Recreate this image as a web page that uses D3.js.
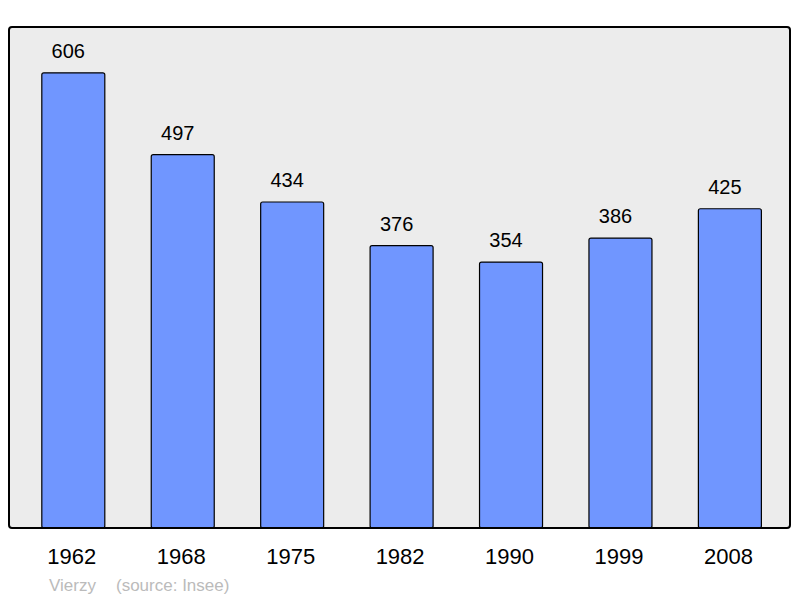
<!DOCTYPE html>
<html>
<head>
<meta charset="utf-8">
<script src="https://cdn.jsdelivr.net/npm/d3@7"></script>
<style>
  html, body { margin: 0; padding: 0; background: #fff; }
  svg { display: block; font-family: "Liberation Sans", Arial, sans-serif; }
</style>
</head>
<body>
<svg id="chart" width="800" height="598"></svg>
<script>
const years = ["1962", "1968", "1975", "1982", "1990", "1999", "2008"];
const population = [606, 497, 434, 376, 354, 386, 425];
const commune = "Vierzy";
const sourceLabel = "(source: Insee)";

const svg = d3.select("#chart");
const plot = { left: 9, top: 27, right: 790, bottom: 528 };

const x = d3.scaleBand()
  .domain(years)
  .range([18.6, 784.6])
  .paddingInner(0.4243)
  .paddingOuter(0.2121);

const y = d3.scaleLinear()
  .domain([0, 667])
  .range([plot.bottom, plot.top]);

// background
svg.append("rect")
  .attr("x", plot.left).attr("y", plot.top)
  .attr("width", plot.right - plot.left)
  .attr("height", plot.bottom - plot.top)
  .attr("rx", 3)
  .attr("fill", "#ececec");

const data = years.map((yr, i) => ({ year: yr, value: population[i] }));

svg.selectAll("rect.bar")
  .data(data)
  .enter().append("rect")
  .attr("class", "bar")
  .attr("x", d => x(d.year))
  .attr("y", d => y(d.value))
  .attr("width", x.bandwidth())
  .attr("height", d => y(0) - y(d.value))
  .attr("rx", 2)
  .attr("fill", "#7096ff")
  .attr("stroke", "#000")
  .attr("stroke-width", 1.2);

svg.selectAll("text.val")
  .data(data)
  .enter().append("text")
  .attr("class", "val")
  .attr("x", d => x(d.year) + x.bandwidth() / 2 - 5)
  .attr("y", d => y(d.value) - 15)
  .attr("text-anchor", "middle")
  .attr("font-size", 20)
  .attr("fill", "#000")
  .text(d => d.value);

// frame
svg.append("rect")
  .attr("x", plot.left).attr("y", plot.top)
  .attr("width", plot.right - plot.left)
  .attr("height", plot.bottom - plot.top)
  .attr("rx", 3)
  .attr("fill", "none")
  .attr("stroke", "#000")
  .attr("stroke-width", 2);

// x axis labels
const xAxis = d3.axisBottom(x).tickSize(0).tickPadding(0);
const gx = svg.append("g")
  .attr("transform", `translate(0,${plot.bottom})`)
  .call(xAxis);
gx.select(".domain").remove();
gx.selectAll("text")
  .attr("font-family", "'Liberation Sans', Arial, sans-serif")
  .attr("font-size", 22)
  .attr("fill", "#000")
  .attr("dy", null)
  .attr("x", -1.5)
  .attr("y", 36);

// source
svg.append("text")
  .attr("x", 49).attr("y", 590.5)
  .attr("font-size", 17)
  .attr("fill", "#bbbbbb")
  .text(commune);
svg.append("text")
  .attr("x", 116).attr("y", 590.5)
  .attr("font-size", 17)
  .attr("fill", "#bbbbbb")
  .text(sourceLabel);
</script>
</body>
</html>
